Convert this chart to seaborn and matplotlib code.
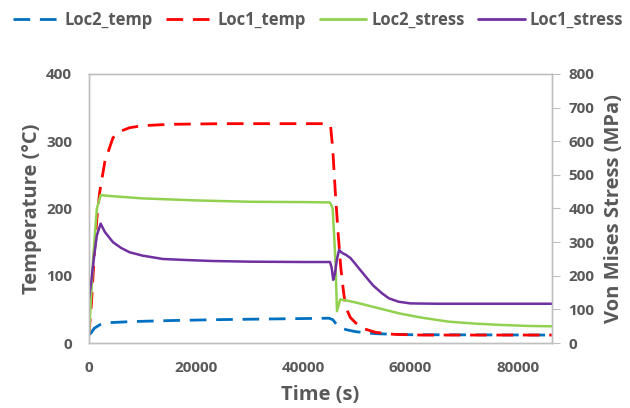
import numpy as np
import pandas as pd
import matplotlib
matplotlib.use("Agg")
import matplotlib.pyplot as plt
import seaborn as sns
from matplotlib.lines import Line2D

# Values
loc1_temp_t = [0, 500, 1000, 1500, 2000, 3000, 4500, 6000, 7600, 10000, 15000, 25000, 35000,
               44500, 45100, 45500, 46000, 46500, 47000, 47500, 47900, 48800, 49800, 51500,
               53500, 57000, 62000, 86400]
loc1_temp = [12, 60, 130, 185, 223, 270, 305, 315, 320, 323, 325, 326, 326,
             326, 323, 290, 223, 165, 113, 78, 54, 38, 30, 21,
             16, 13, 12, 12]

loc2_temp_t = [0, 500, 1000, 2000, 2600, 4000, 8000, 15000, 25000, 35000, 44800, 45500,
               46200, 47000, 48000, 49800, 53500, 60000, 86400]
loc2_temp = [12, 16, 22, 27, 29, 30.5, 32, 33.5, 35, 36, 37, 35,
             28, 23, 20, 17, 14, 12.5, 12]

loc2_stress_t = [0, 300, 800, 1500, 2200, 4000, 10000, 20000, 30000, 40000, 45000, 45500,
                 46000, 46300, 46900, 48000, 50000, 54000, 58000, 62000, 67000, 72000,
                 77000, 82000, 86400]
loc2_stress = [25, 100, 250, 400, 440, 437, 430, 424, 420, 419, 418, 400,
               250, 95, 130, 127, 120, 104, 88, 76, 64, 58,
               54, 51, 50]

loc1_stress_t = [0, 500, 1000, 1500, 2200, 3000, 4500, 6000, 7600, 10000, 13800, 18000, 23000,
                 30000, 40000, 45000, 45300, 45600, 45900, 46300, 46700, 47100, 47500, 48000,
                 48800, 49600, 50500, 51700, 53000, 54700, 56000, 57800, 60000, 65000, 86400]
loc1_stress = [128, 190, 260, 320, 355, 330, 300, 283, 270, 260, 250, 247, 244,
               242, 241, 241, 225, 188, 205, 250, 277, 270, 266, 262,
               253, 238, 220, 197, 172, 148, 133, 123, 118, 117, 117]

sns.set_style("white")
plt.rcParams['font.family'] = ['Open Sans', 'DejaVu Sans']
grey = "#595959"
c_blue, c_red, c_green, c_purple = "#0070C0", "#FF0000", "#92D050", "#7030A0"
dash = (0, (6, 3.5))

fig = plt.figure(figsize=(6.3, 4.08), dpi=100)
ax = fig.add_axes([0.141, 0.159, 0.735, 0.660])
ax2 = ax.twinx()

sns.lineplot(x=loc2_temp_t, y=loc2_temp, ax=ax, color=c_blue, linewidth=2, linestyle=dash)
sns.lineplot(x=loc1_temp_t, y=loc1_temp, ax=ax, color=c_red, linewidth=2, linestyle=dash)
sns.lineplot(x=loc2_stress_t, y=loc2_stress, ax=ax2, color=c_green, linewidth=1.8)
sns.lineplot(x=loc1_stress_t, y=loc1_stress, ax=ax2, color=c_purple, linewidth=1.8)

ax.set_xlim(0, 86400)
ax.set_ylim(0, 400)
ax2.set_ylim(0, 800)
ax.set_xticks([0, 20000, 40000, 60000, 80000])
ax.set_yticks([0, 100, 200, 300, 400])
ax2.set_yticks(range(0, 900, 100))

for a in (ax, ax2):
    for s in a.spines.values():
        s.set_color("#BFBFBF")
        s.set_linewidth(1)

ax.tick_params(axis="x", length=0, labelsize=11, labelcolor=grey, pad=13)
ax.tick_params(axis="y", length=0, labelsize=11, labelcolor=grey, pad=12)
ax2.tick_params(axis="y", length=6, color="#BFBFBF", labelsize=11, labelcolor=grey, pad=6)
for lbl in ax.get_xticklabels() + ax.get_yticklabels() + ax2.get_yticklabels():
    lbl.set_fontweight("bold")

ax.set_xlabel("Time (s)", fontsize=14.5, fontweight="bold", color=grey, labelpad=7)
ax.set_ylabel("Temperature (°C)", fontsize=14.5, fontweight="bold", color=grey, labelpad=3)
ax2.set_ylabel("Von Mises Stress (MPa)", fontsize=14.5, fontweight="bold", color=grey, labelpad=7)

handles = [
    Line2D([], [], color=c_blue, linewidth=2, linestyle=dash),
    Line2D([], [], color=c_red, linewidth=2, linestyle=dash),
    Line2D([], [], color=c_green, linewidth=2),
    Line2D([], [], color=c_purple, linewidth=2),
]
labels = ["Loc2_temp", "Loc1_temp", "Loc2_stress", "Loc1_stress"]
leg = fig.legend(handles, labels, loc="upper center", bbox_to_anchor=(0.505, 1.01), ncol=4,
                 frameon=False, fontsize=12, handlelength=2.8, columnspacing=0.8,
                 handletextpad=0.3)
for t in leg.get_texts():
    t.set_color(grey)
    t.set_fontweight("bold")

fig.savefig("out.png", dpi=100)
